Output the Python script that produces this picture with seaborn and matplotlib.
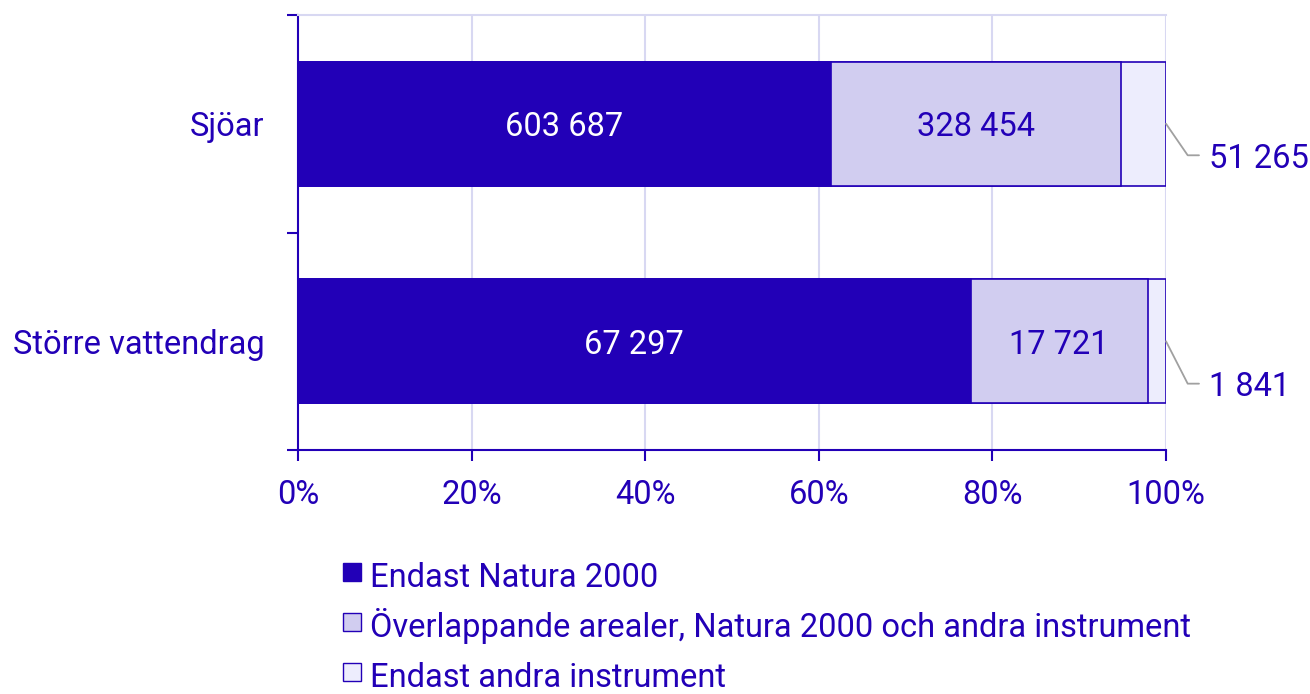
import numpy as np
import pandas as pd
import seaborn as sns
import matplotlib.pyplot as plt
from matplotlib.lines import Line2D

# data
categories = ["Sjöar", "Större vattendrag"]
endast_natura = [603687, 67297]
overlapp = [328454, 17721]
endast_andra = [51265, 1841]
series_names = [
    "Endast Natura 2000",
    "Överlappande arealer, Natura 2000 och andra instrument",
    "Endast andra instrument",
]
x_ticks = [0, 20, 40, 60, 80, 100]

dark = "#2200b7"
mid = "#d1cdf0"
light = "#ededfd"
grid_col = "#d8d8f2"
fs = 23.5

sns.set_theme(style="white")
plt.rcParams["font.family"] = ["Roboto", "DejaVu Sans"]

a = np.array(endast_natura, dtype=float)
b = np.array(overlapp, dtype=float)
c = np.array(endast_andra, dtype=float)
total = a + b + c
df = pd.DataFrame({
    "kategori": categories,
    "p1": a / total * 100,
    "p2": (a + b) / total * 100,
    "p3": (a + b + c) / total * 100,
})

fig = plt.figure(figsize=(13.1, 6.94), dpi=100)
ax = fig.add_axes([298 / 1310, 1 - 450 / 694, 868 / 1310, 435 / 694])

# stacked bars drawn as cumulative overlays
for col, colr in [("p3", light), ("p2", mid), ("p1", dark)]:
    sns.barplot(data=df, x=col, y="kategori", orient="h", color=colr,
                width=0.57, edgecolor=dark, linewidth=1.2, saturation=1, ax=ax)

ax.set_xlim(0, 100)
ax.set_ylim(1.5, -0.5)
ax.set_xlabel("")
ax.set_ylabel("")

# gridlines
for v in x_ticks[1:]:
    ax.axvline(v, color=grid_col, lw=1.5, zorder=0)

ax.set_xticks(x_ticks)
ax.set_xticklabels([f"{v}%" for v in x_ticks])
ax.tick_params(axis="x", colors=dark, labelsize=fs, length=8, width=1.5,
               pad=13, bottom=True)
ax.tick_params(axis="y", colors=dark, labelsize=fs, length=0, pad=24)
ax.set_yticks([-0.5, 0.5, 1.5], minor=True)
ax.tick_params(axis="y", which="minor", left=True, length=8, width=1.5, color=dark)

for s in ["left", "bottom"]:
    ax.spines[s].set_color(dark)
    ax.spines[s].set_linewidth(1.5)
ax.spines["right"].set_visible(False)
ax.spines["top"].set_color(grid_col)
ax.spines["top"].set_linewidth(1.5)

# value labels
for i in range(len(categories)):
    ax.text(df["p1"][i] / 2, i, f"{int(a[i]):,}".replace(",", " "),
            ha="center", va="center_baseline", color="white", fontsize=fs)
    ax.text((df["p1"][i] + df["p2"][i]) / 2, i, f"{int(b[i]):,}".replace(",", " "),
            ha="center", va="center_baseline", color=dark, fontsize=fs)

# leader lines for small segments
offsets = [0.145, 0.195]
for i in range(len(categories)):
    y2 = i + offsets[i]
    ax.plot([100, 102.5, 103.8], [i, y2, y2], color="#a0a0a0", lw=1.3,
            clip_on=False)
    ax.text(105.0, y2, f"{int(c[i]):,}".replace(",", " "), ha="left",
            va="center_baseline", color=dark, fontsize=fs, clip_on=False)

handles = [Line2D([], [], marker="s", linestyle="", markersize=13,
                  markerfacecolor=col, markeredgecolor=dark, markeredgewidth=1.0)
           for col in [dark, mid, light]]
leg = fig.legend(handles, series_names, loc="upper left",
                 bbox_to_anchor=(329 / 1310, 1 - 544 / 694), frameon=False,
                 fontsize=fs, handlelength=0.6, handleheight=1.4,
                 handletextpad=0.27, labelspacing=0.38, borderaxespad=0)
for t in leg.get_texts():
    t.set_color(dark)

fig.savefig("out.png", dpi=100)
